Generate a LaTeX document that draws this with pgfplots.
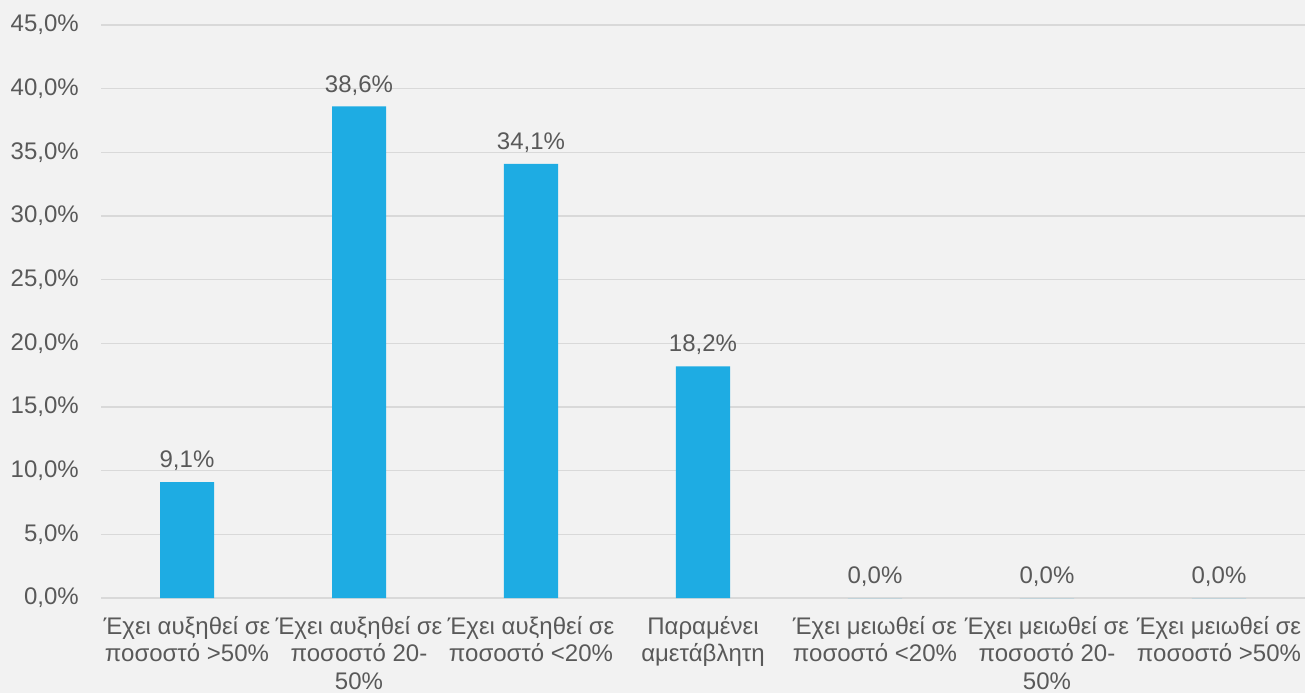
\documentclass[border=0pt]{standalone}
\usepackage{fontspec}
\setmainfont{Liberation Sans}
\usepackage{pgfplots}
\pgfplotsset{compat=1.18}
\definecolor{barblue}{HTML}{1EACE3}
\definecolor{txt}{HTML}{595959}
\definecolor{gridc}{HTML}{D9D9D9}
\definecolor{bg}{HTML}{F2F2F2}

\begin{document}
\begin{tikzpicture}
\fill[bg] (0,0) rectangle (1305pt,693pt);
\useasboundingbox (0,0) rectangle (1305pt,693pt);
\begin{axis}[
    at={(101pt,95pt)}, anchor=south west,
    scale only axis, width=1204pt, height=573pt,
    xmin=-0.5, xmax=6.5, ymin=0, ymax=45,
    ybar, bar width=54pt,
    axis line style={draw=none},
    major tick length=0pt,
    ytick={0,5,...,45},
    ymajorgrids,
    grid style={draw=gridc, line width=1.3pt},
    /pgf/number format/assume math mode=true,
    yticklabel={\pgfmathprintnumber[fixed,fixed zerofill,precision=1,use comma]{\tick}\%},
    tick label style={font=\fontsize{24}{27.5}\selectfont, text=txt},
    yticklabel style={anchor=east, inner sep=0pt, xshift=-22pt},
    xtick={0,...,6},
    xticklabel style={anchor=north, inner sep=0pt, yshift=-18pt, align=center},
    xticklabels={
        {Έχει αυξηθεί σε\\ποσοστό >50\%},
        {Έχει αυξηθεί σε\\ποσοστό 20-\\50\%},
        {Έχει αυξηθεί σε\\ποσοστό <20\%},
        {Παραμένει\\αμετάβλητη},
        {Έχει μειωθεί σε\\ποσοστό <20\%},
        {Έχει μειωθεί σε\\ποσοστό 20-\\50\%},
        {Έχει μειωθεί σε\\ποσοστό >50\%}
    },
    nodes near coords={\pgfmathprintnumber[fixed,fixed zerofill,precision=1,use comma]{\pgfplotspointmeta}\%},
    every node near coord/.append style={font=\fontsize{24}{27.5}\selectfont, text=txt, anchor=south, inner sep=0pt, yshift=11pt},
    clip=false,
]
\addplot[fill=barblue, draw=none] coordinates {
    (0,9.1) (1,38.6) (2,34.1) (3,18.2) (4,0) (5,0) (6,0)
};
\end{axis}
\end{tikzpicture}
\end{document}
